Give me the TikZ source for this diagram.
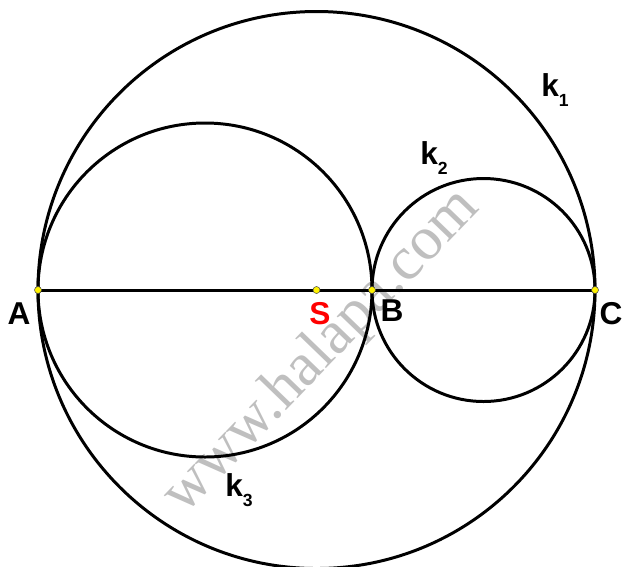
\documentclass[tikz,border=0pt]{standalone}
\usepackage{fontspec}
\setmainfont{Liberation Serif}
\setsansfont{Liberation Sans}
\usepackage{xcolor}
\usepackage{tikz}
\usetikzlibrary{positioning,calc}

\newcommand{\kname}[1]{k\raisebox{-0.3em}{\fontsize{10}{10}\selectfont #1}}
\tikzset{
  circ/.style={line width=1.7pt},
  pt/.style={circle, fill=yellow, draw=black!70, line width=0.3pt, inner sep=0pt, minimum size=4pt},
  lbl/.style={font=\sffamily\bfseries\fontsize{18}{18}\selectfont, inner sep=0pt}
}

\begin{document}
\begin{tikzpicture}[x=0.02cm, y=-0.02cm]
  \useasboundingbox (0,0) rectangle (625,566);
  \clip (0,0) rectangle (625,566);
  % watermark
  \node[rotate=46, text=black!25, font=\fontsize{35}{35}\selectfont] (wm) at (322,352) {www.halapa.com};
  % points
  \coordinate (A) at (38,290);
  \coordinate (S) at (316.5,290);
  \coordinate (B) at (372,290);
  \coordinate (C) at (595,290);
  % circles
  \draw[circ] (S) circle[radius=278.5];
  \draw[circ] ($(A)!0.5!(B)$) circle[radius=167];
  \draw[circ] ($(B)!0.5!(C)$) circle[radius=111.5];
  \draw[circ] (A) -- (C);
  \foreach \p in {A,S,B,C}
    { \node[pt] (d\p) at (\p) {}; }
  % labels
  \node[lbl] (lA) at (19,314) {A};
  \node[lbl, text=red] (lS) at (320,314) {S};
  \node[lbl] (lB) at (392,311) {B};
  \node[lbl] (lC) at (611,314) {C};
  \node[lbl] (k1) at (555,90) {\kname{1}};
  \node[lbl] (k2) at (434,158) {\kname{2}};
  \node[lbl] (k3) at (239,490) {\kname{3}};
\end{tikzpicture}
\end{document}
